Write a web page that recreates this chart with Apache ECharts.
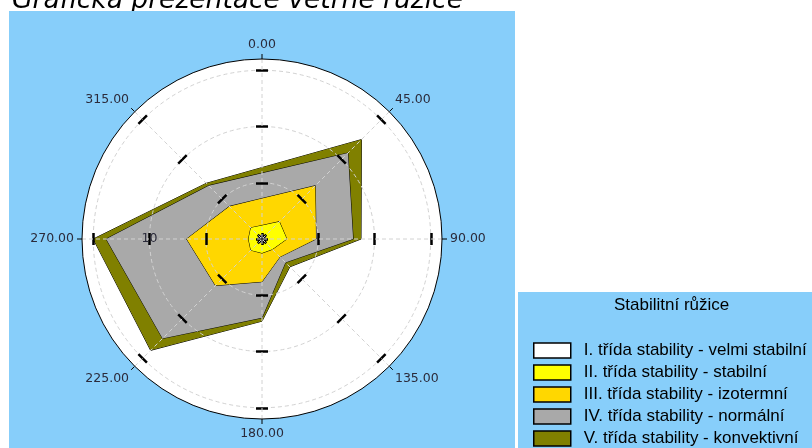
<!DOCTYPE html>
<html><head><meta charset="utf-8">
<script src="https://cdn.jsdelivr.net/npm/echarts@6/dist/echarts.min.js"></script>
<style>html,body{margin:0;padding:0;background:#fff}#c{width:812px;height:448px}</style>
</head><body><div id="c"></div>
<script>
// compass directions (degrees), order: 0,45,90,135,180,225,270,315
const directions = [0, 45, 90, 135, 180, 225, 270, 315];
const seriesNames = [
  'I. třída stability - velmi stabilní',
  'II. třída stability - stabilní',
  'III. třída stability - izotermní',
  'IV. třída stability - normální',
  'V. třída stability - konvektivní'
];
const seriesColors = ['#FFFFFF', '#FFFF00', '#FFD700', '#A9A9A9', '#808000'];
const classI   = [0.35, 0.4, 0.35, 0.35, 0.35, 0.4, 0.35, 0.4];
const classII  = [1.2, 2.18, 2.2, 1.3, 1.25, 1.4, 1.2, 1.4];
const classIII = [3.6, 6.7, 4.8, 2.25, 3.8, 5.85, 6.7, 4.1];
const classIV  = [5.85, 10.8, 8.1, 2.95, 7.0, 12.5, 13.85, 6.7];
const classV   = [6.35, 12.5, 8.8, 3.5, 7.3, 14.0, 15.0, 7.0];
const radiusTicks = [10];
const titleText = 'Grafická prezentace větrné růžice';
const legendTitle = 'Stabilitní růžice';

// radar indicators go counter-clockwise from top: 0,315,270,...,45
const radarOrder = [0, 7, 6, 5, 4, 3, 2, 1];
const reorder = arr => radarOrder.map(i => arr[i]);
const allSeries = [classI, classII, classIII, classIV, classV];

const center = [262, 239];
const R = 180;
const rMax = 16;
const radarMax = 15;
const radarR = R * radarMax / rMax;
const gridLine = { color: '#d2d2d2', width: 1, type: [4, 3] };
const labelColor = '#2b2b3b';
const legendFont = 'Liberation Sans Narrow, Liberation Sans';

const indicators = radarOrder.map(i => ({ name: '', min: 0, max: radarMax }));

const radarBase = {
  center: center, radius: radarR, startAngle: 90, shape: 'circle', splitNumber: 3,
  indicator: indicators, axisName: { show: false },
  axisLine: { show: false }, splitArea: { show: false }, z: 4
};

const chart = echarts.init(document.getElementById('c'));
chart.setOption({
  animation: false,
  title: [
    { text: titleText, left: 12, top: -12, padding: 0, z: 0,
      textStyle: { fontFamily: 'DejaVu Sans', fontStyle: 'italic', fontWeight: 'normal', fontSize: 26.5, color: '#000' } },
    { text: legendTitle, left: 614, top: 297, padding: 0, z: 6,
      textStyle: { fontFamily: legendFont, fontWeight: 'normal', fontSize: 17, color: '#000' } }
  ],
  graphic: [
    { type: 'rect', z: 1, shape: { x: 9, y: 11, width: 506, height: 437 }, style: { fill: '#87CEFA' } },
    { type: 'rect', z: 1, shape: { x: 518, y: 292, width: 294, height: 156 }, style: { fill: '#87CEFA' } }
  ],
  legend: {
    orient: 'vertical', left: 533, top: 342, height: 120, padding: 0,
    itemWidth: 37, itemHeight: 15, itemGap: 5,
    icon: 'rect', data: seriesNames, z: 6,
    itemStyle: { borderColor: '#000', borderWidth: 1.5 },
    textStyle: { fontFamily: legendFont, fontSize: 17, color: '#000', padding: [0, 0, 0, 8] }
  },
  polar: [
    { center: center, radius: R },
    { center: center, radius: R }
  ],
  angleAxis: [
    { polarIndex: 0, type: 'value', min: 0, max: 360, interval: 45, startAngle: 180, clockwise: true, z: 2,
      axisLine: { show: false }, axisTick: { show: false }, axisLabel: { show: false }, splitLine: { show: false },
      splitArea: { show: true, areaStyle: { color: ['#FFFFFF'] } } },
    { polarIndex: 1, type: 'value', min: 0, max: 360, interval: 45, startAngle: 90, clockwise: true, z: 5,
      axisLine: { lineStyle: { color: '#000', width: 1 } },
      axisTick: { show: true, length: 5, lineStyle: { color: '#000', width: 1 } },
      axisLabel: { margin: 8, color: labelColor, fontFamily: 'DejaVu Sans', fontSize: 12.5,
        formatter: v => (v === 360 ? '' : v.toFixed(2)) },
      splitLine: { show: true, lineStyle: gridLine }, splitArea: { show: false } }
  ],
  radiusAxis: [
    { polarIndex: 0, type: 'value', min: 0, max: rMax, interval: 5, z: 5,
      axisLine: { show: false }, axisTick: { show: false }, splitLine: { show: false },
      axisLabel: { margin: 0, align: 'center', verticalAlign: 'middle', color: labelColor, fontFamily: 'DejaVu Sans', fontSize: 12.5,
        formatter: v => (radiusTicks.indexOf(v) >= 0 ? String(v) : '') } },
    { polarIndex: 1, type: 'value', min: 0, max: rMax, show: false }
  ],
  radar: [
    Object.assign({}, radarBase, {
      splitLine: { show: true, lineStyle: gridLine },
      axisTick: { show: true, length: 6, lineStyle: { color: '#000', width: 2.5 } }
    }),
    Object.assign({}, radarBase, {
      splitLine: { show: false },
      axisTick: { show: true, length: -6, lineStyle: { color: '#000', width: 2.5 } }
    })
  ],
  series: [{
    type: 'radar', radarIndex: 0, z: 3, symbol: 'none',
    data: [4, 3, 2, 1, 0].map(k => ({
      name: seriesNames[k],
      value: reorder(allSeries[k]),
      itemStyle: { color: seriesColors[k] },
      lineStyle: { color: '#000', width: 1 },
      areaStyle: { color: seriesColors[k], opacity: 1 }
    }))
  }]
});
</script></body></html>
